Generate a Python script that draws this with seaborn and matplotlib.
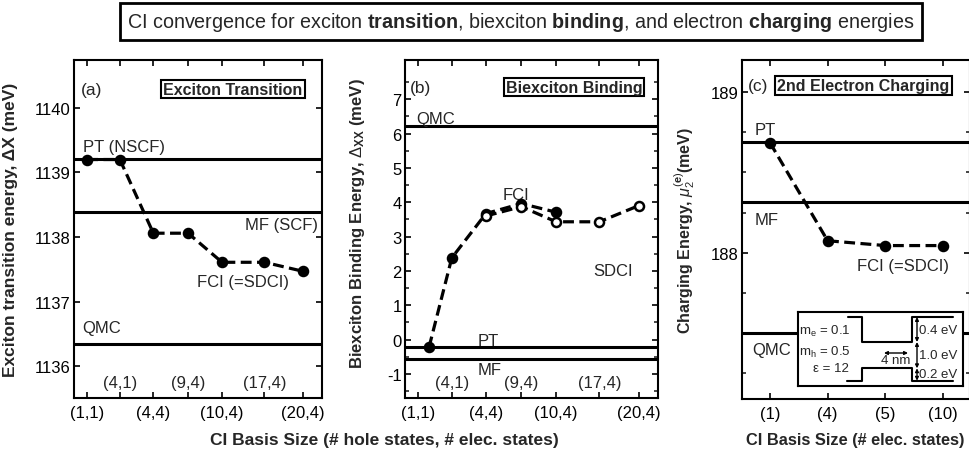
import numpy as np
import pandas as pd
import matplotlib
matplotlib.use("Agg")
import matplotlib.pyplot as plt
import seaborn as sns

# ---------------- data ----------------
basis_labels = ["(1,1)", "(4,1)", "(4,4)", "(9,4)", "(10,4)", "(17,4)", "(20,4)"]
exciton_fci = [1139.2, 1139.2, 1138.06, 1138.06, 1137.61, 1137.61, 1137.47]
exciton_refs = {"PT (NSCF)": 1139.21, "MF (SCF)": 1138.39, "QMC": 1136.35}

biexciton_fci = [-0.22, 2.38, 3.67, 3.96, 3.71]           # (1,1)..(10,4)
biexciton_sdci = [3.6, 3.87, 3.43, 3.43, 3.9]             # (4,4)..(20,4)
biexciton_refs = {"QMC": 6.21, "PT": -0.22, "MF": -0.56}

charging_labels = ["(1)", "(4)", "(5)", "(10)"]
charging_fci = [188.685, 188.075, 188.045, 188.045]
charging_refs = {"PT": 188.69, "MF": 188.315, "QMC": 187.5}

# layout: horizontal position of each basis size on panels (a) and (b)
basis_pos = [0.53, 1.85, 3.2, 4.6, 5.97, 7.68, 9.24]

# ---------------- style ----------------
sns.set_theme(style="ticks")
plt.rcParams["font.family"] = ["Liberation Sans", "DejaVu Sans"]
plt.rcParams["mathtext.fontset"] = "custom"
plt.rcParams["mathtext.rm"] = "Liberation Sans"
plt.rcParams["mathtext.it"] = "Liberation Sans:italic"
plt.rcParams["mathtext.bf"] = "Liberation Sans:bold"
plt.rcParams["axes.linewidth"] = 1.5
plt.rcParams["axes.edgecolor"] = "black"

TICK_FS = 12
TXT_FS = 12

fig = plt.figure(figsize=(9.69, 4.6), dpi=100)
W, H = 969.0, 460.0


def add_ax(x0, x1, y0, y1):
    return fig.add_axes([x0 / W, 1 - y1 / H, (x1 - x0) / W, (y1 - y0) / H])


ax_a = add_ax(74, 322, 61, 399)
ax_b = add_ax(405, 658, 61, 399)
ax_c = add_ax(742, 970, 61, 400)


def style_ax(ax):
    ax.tick_params(direction="in", top=True, right=True, length=4, width=1.2,
                   labelsize=TICK_FS, colors="black")
    ax.tick_params(axis="x", pad=5)
    ax.tick_params(axis="y", pad=2.5)
    ax.tick_params(which="minor", direction="in", top=False, right=True,
                   length=3, width=1.2)
    for s in ax.spines.values():
        s.set_visible(True)
        s.set_linewidth(1.5)
        s.set_color("black")
    ax.set_facecolor("white")
    ax.grid(False)


def dashed_series(ax, x, y, filled=True, z=5):
    sns.lineplot(x=x, y=y, ax=ax, color="black", linewidth=2.3, linestyle="--",
                 marker="o", markersize=6.5,
                 markerfacecolor="black" if filled else "white",
                 markeredgecolor="black", markeredgewidth=1.8,
                 sort=False, zorder=z, legend=False)
    ax.lines[-1].set_dashes([3.4, 1.7])


def basis_xaxis(ax):
    ax.set_xlim(0, 10)
    ax.set_xticks(basis_pos)
    ax.set_xticklabels([l if i % 2 == 0 else "" for i, l in enumerate(basis_labels)])
    for i, l in enumerate(basis_labels):
        if i % 2 == 1:
            ax.text(basis_pos[i], 0.045, l, transform=ax.get_xaxis_transform(),
                    ha="center", va="center", fontsize=TICK_FS)


def box_title(ax, x, y, s):
    ax.text(x, y, s, transform=ax.transAxes, ha="center", va="center",
            fontsize=11.5, fontweight="bold", zorder=10,
            bbox=dict(boxstyle="square,pad=0.12", fc="white", ec="black", lw=1.5))


# ---------------- panel (a) ----------------
style_ax(ax_a)
for name, v in exciton_refs.items():
    ax_a.axhline(v, color="black", lw=2.2, zorder=3)
dashed_series(ax_a, basis_pos, exciton_fci)
basis_xaxis(ax_a)
ax_a.set_ylim(1135.51, 1140.74)
ax_a.set_yticks([1136, 1137, 1138, 1139, 1140])
ax_a.set_yticklabels(["1136", "1137", "1138", "1139", "1140"])
ax_a.set_ylabel("Exciton transition energy, ΔX (meV)", fontsize=12.5, fontweight="bold")
ax_a.yaxis.set_label_coords(-0.225, 0.5)
ax_a.text(0.028, 0.914, "(a)", transform=ax_a.transAxes, fontsize=12.5, va="center")
box_title(ax_a, 0.641, 0.914, "Exciton Transition")
ax_a.text(0.36, 1139.4, "PT (NSCF)", fontsize=TXT_FS, va="center")
ax_a.text(9.84, 1138.2, "MF (SCF)", fontsize=TXT_FS, va="center", ha="right")
ax_a.text(4.96, 1137.32, "FCI (=SDCI)", fontsize=TXT_FS, va="center")
ax_a.text(0.32, 1136.6, "QMC", fontsize=TXT_FS, va="center")

# ---------------- panel (b) ----------------
style_ax(ax_b)
for name, v in biexciton_refs.items():
    ax_b.axhline(v, color="black", lw=2.2, zorder=3)
fci_x = list(basis_pos[:len(biexciton_fci)])
fci_x[0] = fci_x[0] + 0.42
dashed_series(ax_b, fci_x, biexciton_fci, filled=True, z=5)
dashed_series(ax_b, basis_pos[2:], biexciton_sdci, filled=False, z=6)
basis_xaxis(ax_b)
ax_b.set_ylim(-1.7, 8.14)
ax_b.set_yticks(list(range(-1, 8)))
ax_b.set_yticklabels([str(v) for v in range(-1, 8)])
ax_b.set_yticks(np.arange(-1.5, 8.0, 0.5), minor=True)
ax_b.set_ylabel(r"Biexciton Binding Energy, $\Delta_{\mathbf{XX}}$ (meV)",
                fontsize=12, fontweight="bold")
ax_b.yaxis.set_label_coords(-0.15, 0.52)
ax_b.text(0.02, 0.92, "(b)", transform=ax_b.transAxes, fontsize=12.5, va="center")
box_title(ax_b, 0.668, 0.92, "Biexciton Binding")
ax_b.text(0.43, 6.45, "QMC", fontsize=TXT_FS, va="center")
ax_b.text(3.87, 4.23, "FCI", fontsize=TXT_FS, va="center")
ax_b.text(7.43, 2.01, "SDCI", fontsize=TXT_FS, va="center")
ax_b.text(2.89, -0.04, "PT", fontsize=TXT_FS, va="center")
ax_b.text(2.89, -0.88, "MF", fontsize=TXT_FS, va="center")

# ---------------- panel (c) ----------------
style_ax(ax_c)
for name, v in charging_refs.items():
    ax_c.axhline(v, color="black", lw=2.2, zorder=3)
cx = list(range(len(charging_labels)))
dashed_series(ax_c, cx, charging_fci)
ax_c.set_xlim(-0.486, 3.47)
ax_c.set_xticks(cx)
ax_c.set_xticklabels(charging_labels)
ax_c.set_ylim(187.09, 189.2)
ax_c.set_yticks([188, 189])
ax_c.set_yticklabels(["188", "189"])
ax_c.set_yticks(np.arange(187.25, 189.01, 0.25), minor=True)
ax_c.tick_params(which="minor", left=True, right=True, direction="in", length=3)
ax_c.set_ylabel(r"Charging Energy, $\mu_2^{(\mathbf{e})}$(meV)", fontsize=11.5,
                fontweight="bold")
ax_c.yaxis.set_label_coords(-0.197, 0.5)
ax_c.text(0.026, 0.926, "(c)", transform=ax_c.transAxes, fontsize=12.5, va="center")
box_title(ax_c, 0.533, 0.926, "2nd Electron Charging")
ax_c.text(-0.26, 188.77, "PT", fontsize=TXT_FS, va="center")
ax_c.text(-0.26, 188.21, "MF", fontsize=TXT_FS, va="center")
ax_c.text(-0.31, 187.4, "QMC", fontsize=TXT_FS, va="center")
ax_c.text(1.51, 187.92, "FCI (=SDCI)", fontsize=TXT_FS, va="center")

# ---------------- inset (quantum-dot schematic) ----------------
ins = add_ax(798, 963, 313, 387)
ins.set_zorder(20)
ins.set_xlim(0, 165)
ins.set_ylim(74, 0)
ins.set_xticks([])
ins.set_yticks([])
for s in ins.spines.values():
    s.set_visible(True)
    s.set_linewidth(1.5)
    s.set_color("black")
ins.set_facecolor("white")
ins.plot([50, 63.7, 63.7, 114, 114, 154.7], [5, 5, 30, 30, 5, 5], color="black", lw=1.5)
ins.plot([49, 63.7, 63.7, 114, 114, 154.7], [68.7, 68.7, 56.3, 56.3, 68.7, 68.7],
         color="black", lw=1.5)
arrow = dict(arrowstyle="<|-|>", color="black", lw=1.0, mutation_scale=5,
             shrinkA=0, shrinkB=0)
for y0, y1 in [(5, 30), (30, 56.3), (56.3, 68.7)]:
    ins.annotate("", xy=(119, y0), xytext=(119, y1), arrowprops=arrow)
ins.annotate("", xy=(86, 41), xytext=(110, 41), arrowprops=arrow)
ins.text(98, 48.5, "4 nm", ha="center", va="center", fontsize=9.5)
ins.text(121.5, 17.5, "0.4 eV", ha="left", va="center", fontsize=9.5)
ins.text(121.5, 43, "1.0 eV", ha="left", va="center", fontsize=9.5)
ins.text(121.5, 62.5, "0.2 eV", ha="left", va="center", fontsize=9.5)
ins.text(53, 18.7, r"m$_\mathrm{e}$ = 0.1", ha="right", va="center", fontsize=9.5)
ins.text(53, 39.7, r"m$_\mathrm{h}$ = 0.5", ha="right", va="center", fontsize=9.5)
ins.text(51, 56, "ε = 12", ha="right", va="center", fontsize=9.5)

# ---------------- figure-level texts ----------------
fig.text(384 / W, 1 - 441 / H, "CI Basis Size (# hole states, # elec. states)",
         ha="center", va="center", fontsize=12.5, fontweight="bold")
fig.text(855 / W, 1 - 441 / H, "CI Basis Size (# elec. states)",
         ha="center", va="center", fontsize=11.8, fontweight="bold")

title = (r"CI convergence for exciton $\mathbf{transition}$, biexciton "
         r"$\mathbf{binding}$, and electron $\mathbf{charging}$ energies")
fig.text(521 / W, 1 - 22.5 / H, title, ha="center", va="center", fontsize=14.2,
         bbox=dict(boxstyle="square,pad=0.38", fc="white", ec="black", lw=2))

fig.savefig("out.png", dpi=100, facecolor="white")
